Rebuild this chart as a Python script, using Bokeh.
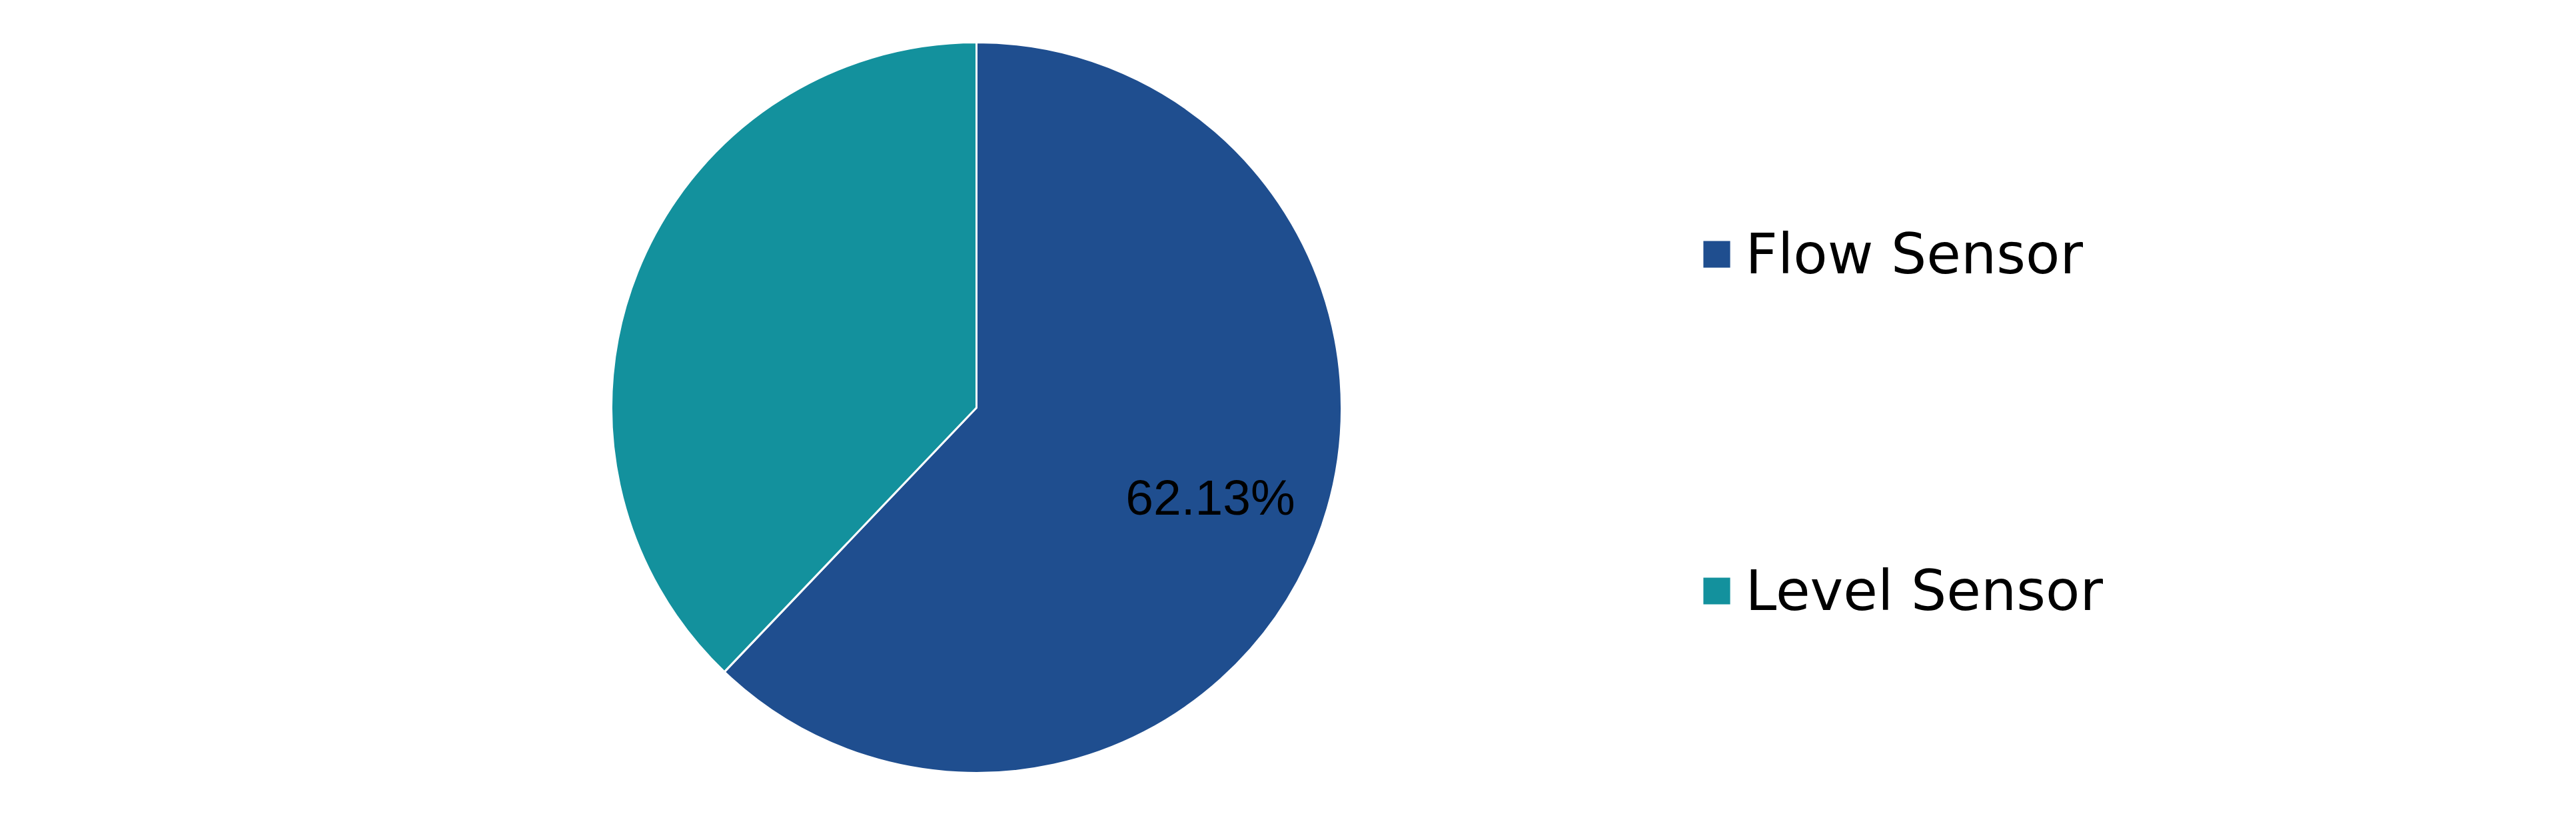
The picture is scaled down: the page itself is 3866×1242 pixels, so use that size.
import numpy as np
from bokeh.plotting import figure
from bokeh.models import ColumnDataSource, Range1d, Legend, LegendItem
from bokeh.core.properties import value
from bokeh.embed import file_html
from bokeh.resources import INLINE

# ---- data ----
categories = ["Flow Sensor", "Level Sensor"]
shares = [62.13, 37.87]
colors = ["#1F4E8F", "#13919D"]
slice_labels = ["62.13%", ""]

# ---- layout (pixels) ----
W, H = 3850, 1226
R_PX = 548          # pie radius in px
CX, CY = 1465, 611  # pie centre, px from frame top-left

frac = np.array(shares, dtype=float) / sum(shares)
cum = np.concatenate([[0.0], np.cumsum(frac)])
start = np.pi / 2 - cum[:-1] * 2 * np.pi
end = np.pi / 2 - cum[1:] * 2 * np.pi
mid = (start + end) / 2
LABEL_R = 0.69

src = ColumnDataSource(dict(
    category=categories, share=shares, color=colors,
    start=start, end=end,
    lx=LABEL_R * np.cos(mid), ly=LABEL_R * np.sin(mid) + 0.012, label=slice_labels,
))

p = figure(width=W, height=H,
           x_range=Range1d(-CX / R_PX, (W - CX) / R_PX),
           y_range=Range1d(-(H - CY) / R_PX, CY / R_PX),
           x_axis_type=None, y_axis_type=None,
           output_backend="svg", toolbar_location=None,
           min_border=0, outline_line_color=None)
p.grid.visible = False

r = p.wedge(x=0, y=0, radius=1, start_angle="start", end_angle="end",
            direction="clock", fill_color="color", line_color="white",
            line_width=3, source=src)

p.text(x="lx", y="ly", text="label", source=src, text_align="center",
       text_baseline="middle", text_font=value("Liberation Sans"),
       text_font_size="75px", text_color="black")

items = [LegendItem(label=c, renderers=[r], index=i) for i, c in enumerate(categories)]
legend = Legend(items=items, location=(2548.6, 291), orientation="vertical",
                glyph_width=54, glyph_height=54, label_standoff=17,
                label_text_font="DejaVu Sans", label_text_font_size="84px",
                label_text_color="black", spacing=407, padding=0, margin=0,
                border_line_color=None, background_fill_alpha=0)
p.add_layout(legend)

open("out.html", "w").write(file_html(p, INLINE))
